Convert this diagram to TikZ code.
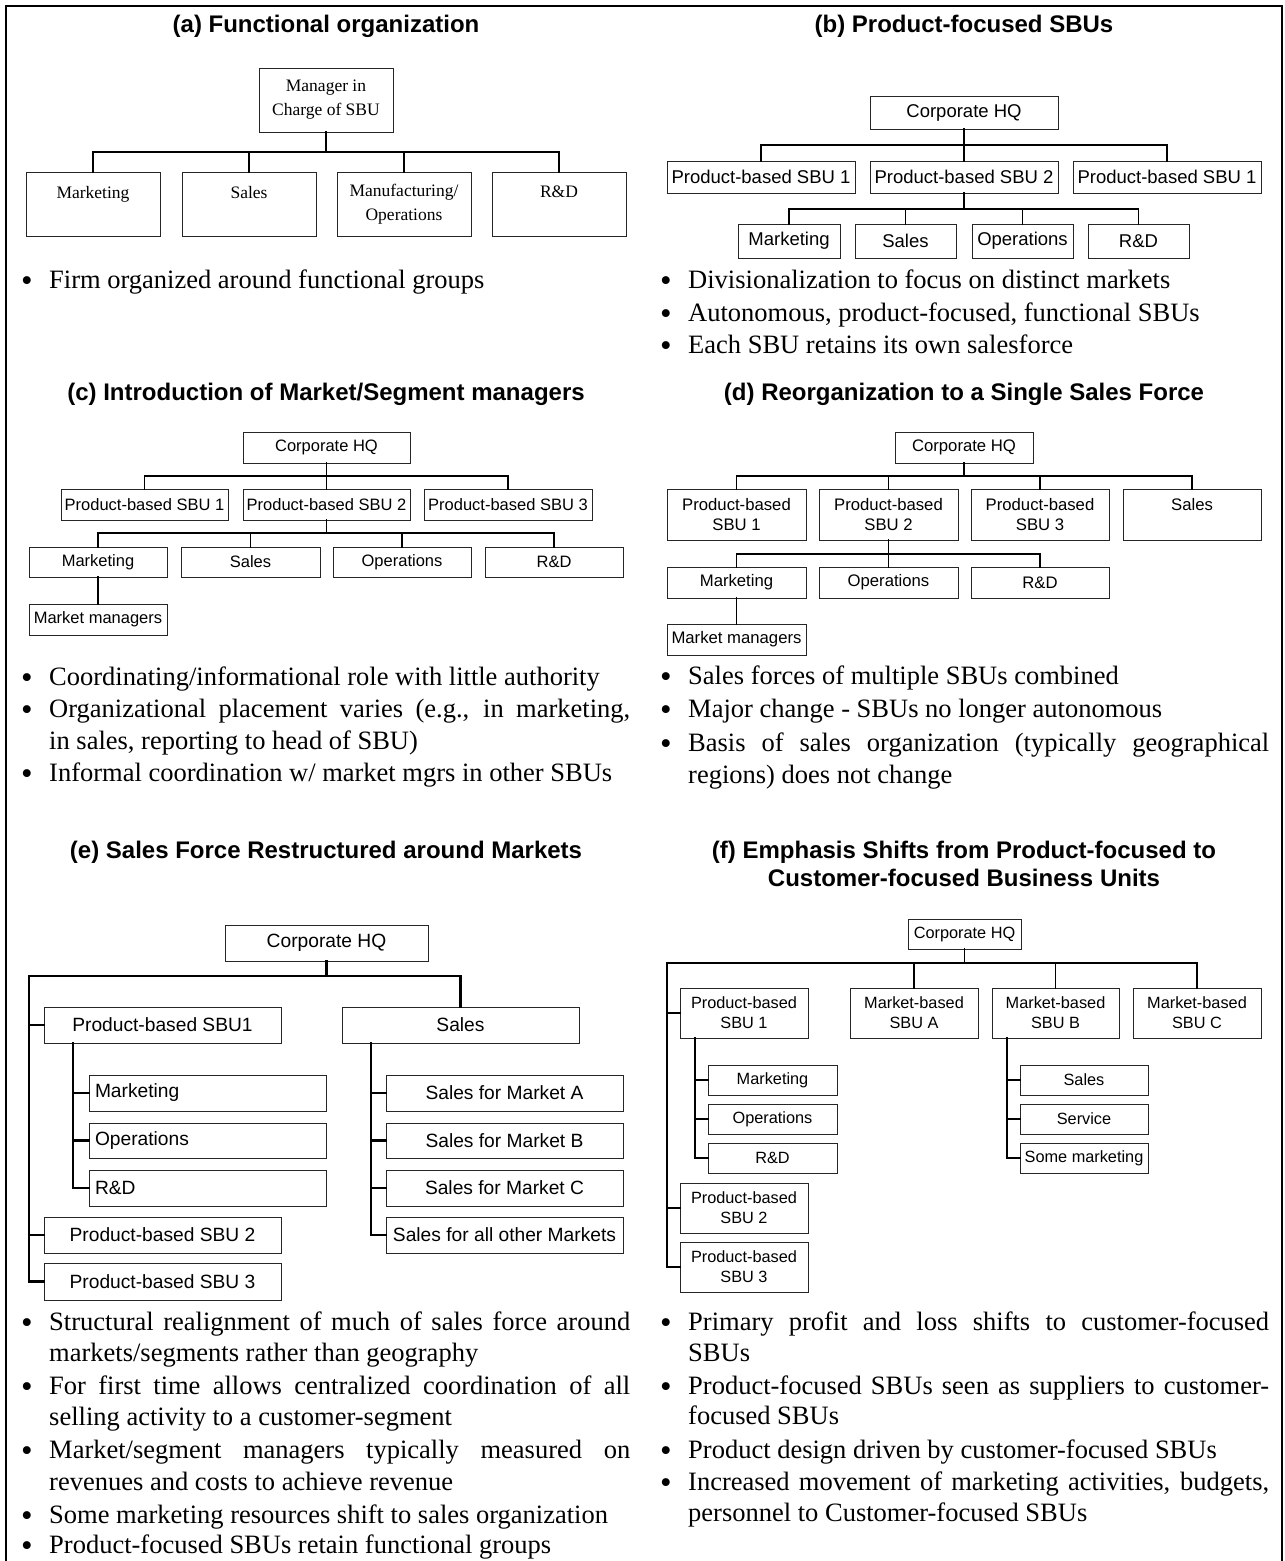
\documentclass[tikz,border=0pt]{standalone}
\usepackage{fontspec}
\setmainfont{Liberation Serif}
\newfontfamily\arialf{Liberation Sans}
\newcommand\bodyf{\fontsize{26.5}{32}\selectfont}
\newcommand\dotf{\fontsize{33}{33}\selectfont}
\newcommand\ttlf{\arialf\bfseries\fontsize{24}{28}\selectfont}
\newcommand\fontA{\fontsize{17.5}{24}\selectfont}
\newcommand\fontB{\arialf\fontsize{18.5}{22}\selectfont}
\newcommand\fontC{\arialf\fontsize{16.5}{20}\selectfont}
\newcommand\fontD{\arialf\fontsize{16.7}{20}\selectfont}
\newcommand\fontE{\arialf\fontsize{19.2}{22}\selectfont}
\newcommand\fontF{\arialf\fontsize{16.3}{20}\selectfont}
\tikzset{
  obox/.style={draw=black!85, line width=0.9pt, outer sep=0pt, inner sep=1pt, align=center},
  ttl/.style={anchor=base, inner sep=0pt, font=\ttlf},
  btxt/.style={anchor=base west, inner sep=0pt, font=\bodyf},
  bdotst/.style={anchor=base, inner sep=0pt, font=\dotf, yshift=-3.5pt},
  lnA/.style={line width=1.1pt, line cap=rect},
  lnB/.style={line width=1.8pt, line cap=rect},
  lnC/.style={line width=2.6pt, line cap=rect},
  lnE/.style={line width=2.3pt, line cap=rect},
  lnF/.style={line width=1.9pt, line cap=rect},
  lft/.style={align=left, inner xsep=6pt, text width={#1}}
}
% #1 opts, #2 name, #3 x1, #4 y1, #5 x2, #6 y2, #7 text
\newcommand{\orgbox}[7][]{%
  \node[obox, minimum width={#5-#3}, minimum height={#6-#4}, #1] (#2) at ({(#3+#5)/2},{(#4+#6)/2}) {#7};}
\newcommand{\bline}[4]{\node[btxt] (#1) at (#2,#3) {#4};}
\newcommand{\jline}[4]{\node[btxt] (#1) at (#2,#3) {\makebox[581pt][s]{#4}};}
\newcommand{\mydot}[3]{\node[bdotst] (#1) at (#2,#3) {\textbullet};}
\begin{document}
\begin{tikzpicture}[x=1pt,y=-1pt]
\useasboundingbox (0,0) rectangle (1285,1561);
% frame
\draw[line width=2pt] (6,1565) -- (6,6) -- (1282,6) -- (1282,1565);

% ---------------- (a)
\node[ttl] (ta) at (326,32) {(a) Functional organization};
\orgbox[font=\fontA]{amgr}{259}{68}{393}{132}{Manager in\\Charge of SBU}
\orgbox[font=\fontA]{a1}{26}{172}{160}{236}{Marketing\\\mbox{}}
\orgbox[font=\fontA]{a2}{182}{172}{316}{236}{Sales\\\mbox{}}
\orgbox[font=\fontA]{a3}{337}{172}{471}{236}{Manufacturing/\\Operations}
\orgbox[font=\fontA]{a4}{492}{172}{626}{236}{R\&D\\\mbox{}}
\coordinate (aBus) at (0,152);
\draw[lnA] (amgr.south) -- (amgr.south |- aBus);
\draw[lnA] (a1.north) -- (a1.north |- aBus) -- (a4.north |- aBus) -- (a4.north);
\draw[lnA] (a2.north) -- (a2.north |- aBus);
\draw[lnA] (a3.north) -- (a3.north |- aBus);
\mydot{ad1}{27}{288}
\bline{ab1}{49}{288}{Firm organized around functional groups}

% ---------------- (b)
\node[ttl] (tb) at (964,32) {(b) Product-focused SBUs};
\orgbox[font=\fontB]{bhq}{870}{96}{1058}{129}{Corporate HQ}
\orgbox[font=\fontB]{b1}{667}{161}{855}{193}{Product-based SBU 1}
\orgbox[font=\fontB]{b2}{870}{161}{1058}{193}{Product-based SBU 2}
\orgbox[font=\fontB]{b3}{1073}{161}{1261}{193}{Product-based SBU 1}
\orgbox[font=\fontB]{bf1}{738}{224}{840}{258}{Marketing}
\orgbox[font=\fontB]{bf2}{855}{224}{956}{258}{Sales}
\orgbox[font=\fontB]{bf3}{972}{224}{1073}{258}{Operations}
\orgbox[font=\fontB]{bf4}{1088}{224}{1189}{258}{R\&D}
\coordinate (bBus1) at (0,145);
\coordinate (bBus2) at (0,209);
\draw[lnB] (bhq.south) -- (bhq.south |- bBus1);
\draw[lnB] (b1.north) -- (b1.north |- bBus1) -- (b3.north |- bBus1) -- (b3.north);
\draw[lnB] (b2.north) -- (b2.north |- bBus1);
\draw[lnB] (b2.south) -- (b2.south |- bBus2);
\draw[lnB] (bf1.north) -- (bf1.north |- bBus2) -- (bf4.north |- bBus2) -- (bf4.north);
\draw[lnB] (bf2.north) -- (bf2.north |- bBus2);
\draw[lnB] (bf3.north) -- (bf3.north |- bBus2);
\mydot{bd1}{666}{288}
\bline{bb1}{688}{288}{Divisionalization to focus on distinct markets}
\mydot{bd2}{666}{321}
\bline{bb2}{688}{321}{Autonomous, product-focused, functional SBUs}
\mydot{bd3}{666}{353}
\bline{bb3}{688}{353}{Each SBU retains its own salesforce}

% ---------------- (c)
\node[ttl] (tc) at (326,400) {(c) Introduction of Market/Segment managers};
\orgbox[font=\fontC]{chq}{243}{432}{410}{463}{Corporate HQ}
\orgbox[font=\fontC]{c1}{61}{489}{228}{520}{Product-based SBU 1}
\orgbox[font=\fontC]{c2}{243}{489}{410}{520}{Product-based SBU 2}
\orgbox[font=\fontC]{c3}{424}{489}{592}{520}{Product-based SBU 3}
\orgbox[font=\fontC]{cf1}{29}{547}{167}{577}{Marketing}
\orgbox[font=\fontC]{cf2}{181}{547}{320}{577}{Sales}
\orgbox[font=\fontC]{cf3}{333}{547}{471}{577}{Operations}
\orgbox[font=\fontC]{cf4}{485}{547}{623}{577}{R\&D}
\orgbox[font=\fontC]{cmm}{29}{604}{167}{635}{Market managers}
\coordinate (cBus1) at (0,476);
\coordinate (cBus2) at (0,533);
\draw[lnB] (chq.south) -- (chq.south |- cBus1);
\draw[lnB] (c1.north) -- (c1.north |- cBus1) -- (c3.north |- cBus1) -- (c3.north);
\draw[lnB] (c2.north) -- (c2.north |- cBus1);
\draw[lnB] (c2.south) -- (c2.south |- cBus2);
\draw[lnC] (cf1.north |- cBus2) -- (cf4.north |- cBus2);
\draw[lnB] (cf1.north) -- (cf1.north |- cBus2);
\draw[lnB] (cf2.north) -- (cf2.north |- cBus2);
\draw[lnB] (cf3.north) -- (cf3.north |- cBus2);
\draw[lnB] (cf4.north) -- (cf4.north |- cBus2);
\draw[lnB] (cf1.south) -- (cmm.north);
\mydot{cd1}{27}{685}
\bline{cb1}{49}{685}{Coordinating/informational role with little authority}
\mydot{cd2}{27}{717}
\jline{cb2}{49}{717}{Organizational placement varies (e.g., in marketing,}
\bline{cb3}{49}{749}{in sales, reporting to head of SBU)}
\mydot{cd4}{27}{781}
\bline{cb4}{49}{781}{Informal coordination w/ market mgrs in other SBUs}

% ---------------- (d)
\node[ttl] (td) at (964,400) {(d) Reorganization to a Single Sales Force};
\orgbox[font=\fontD]{dhq}{895}{432}{1033}{463}{Corporate HQ}
\orgbox[font=\fontD]{d1}{667}{489}{806}{540}{Product-based\\SBU 1}
\orgbox[font=\fontD]{d2}{819}{489}{958}{540}{Product-based\\SBU 2}
\orgbox[font=\fontD]{d3}{971}{489}{1109}{540}{Product-based\\SBU 3}
\orgbox[font=\fontD]{d4}{1123}{489}{1261}{540}{Sales\\\mbox{}}
\orgbox[font=\fontD]{df1}{667}{567}{806}{598}{Marketing}
\orgbox[font=\fontD]{df2}{819}{567}{958}{598}{Operations}
\orgbox[font=\fontD]{df3}{971}{567}{1109}{598}{R\&D}
\orgbox[font=\fontD]{dmm}{667}{624}{806}{655}{Market managers}
\coordinate (dBus1) at (0,476);
\coordinate (dBus2) at (0,554);
\draw[lnB] (dhq.south) -- (dhq.south |- dBus1);
\draw[lnB] (d1.north) -- (d1.north |- dBus1) -- (d4.north |- dBus1) -- (d4.north);
\draw[lnB] (d2.north) -- (d2.north |- dBus1);
\draw[lnB] (d3.north) -- (d3.north |- dBus1);
\draw[lnB] (d2.south) -- (df2.north);
\draw[lnB] (df1.north) -- (df1.north |- dBus2) -- (df3.north |- dBus2) -- (df3.north);
\draw[lnB] (df1.south) -- (dmm.north);
\mydot{dd1}{666}{684}
\bline{db1}{688}{684}{Sales forces of multiple SBUs combined}
\mydot{dd2}{666}{717}
\bline{db2}{688}{717}{Major change - SBUs no longer autonomous}
\mydot{dd3}{666}{751}
\jline{db3}{688}{751}{Basis of sales organization (typically geographical}
\bline{db4}{688}{783}{regions) does not change}

% ---------------- (e)
\node[ttl] (te) at (326,858) {(e) Sales Force Restructured around Markets};
\orgbox[font=\fontE]{ehq}{225}{925}{428}{961}{Corporate HQ}
\orgbox[font=\fontE]{ep1}{44}{1007}{281}{1043}{Product-based SBU1}
\orgbox[font=\fontE]{es}{342}{1007}{579}{1043}{Sales}
\orgbox[font=\fontE,lft=225pt]{em1}{89}{1075}{326}{1111}{Marketing}
\orgbox[font=\fontE,lft=225pt]{em2}{89}{1123}{326}{1158}{Operations}
\orgbox[font=\fontE,lft=225pt]{em3}{89}{1170}{326}{1206}{R\&D}
\orgbox[font=\fontE]{esa}{386}{1075}{623}{1111}{Sales for Market A}
\orgbox[font=\fontE]{esb}{386}{1123}{623}{1158}{Sales for Market B}
\orgbox[font=\fontE]{esc}{386}{1170}{623}{1206}{Sales for Market C}
\orgbox[font=\fontE]{esd}{386}{1217}{623}{1253}{Sales for all other Markets}
\orgbox[font=\fontE]{ep2}{44}{1217}{281}{1253}{Product-based SBU 2}
\orgbox[font=\fontE]{ep3}{44}{1263}{281}{1300}{Product-based SBU 3}
\coordinate (eBus) at (0,976);
\coordinate (eTrunk) at (29,976);
\coordinate (eSub1) at (73,0);
\coordinate (eSub2) at (371,0);
\draw[lnE] (ehq.south) -- (ehq.south |- eBus);
\draw[lnE] (es.north) -- (es.north |- eBus) -- (eTrunk) -- (eTrunk |- ep3.west) -- (ep3.west);
\draw[lnE] (eTrunk |- ep1.west) -- (ep1.west);
\draw[lnE] (eTrunk |- ep2.west) -- (ep2.west);
\draw[lnE] (eSub1 |- ep1.south) -- (eSub1 |- em3.west) -- (em3.west);
\draw[lnE] (eSub1 |- em1.west) -- (em1.west);
\draw[lnE] (eSub1 |- em2.west) -- (em2.west);
\draw[lnE] (eSub2 |- es.south) -- (eSub2 |- esd.west) -- (esd.west);
\draw[lnE] (eSub2 |- esa.west) -- (esa.west);
\draw[lnE] (eSub2 |- esb.west) -- (esb.west);
\draw[lnE] (eSub2 |- esc.west) -- (esc.west);
\mydot{ed1}{27}{1330}
\jline{eb1}{49}{1330}{Structural realignment of much of sales force around}
\bline{eb2}{49}{1361}{markets/segments rather than geography}
\mydot{ed3}{27}{1394}
\jline{eb3}{49}{1394}{For first time allows centralized coordination of all}
\bline{eb4}{49}{1425}{selling activity to a customer-segment}
\mydot{ed5}{27}{1458}
\jline{eb5}{49}{1458}{Market/segment managers typically measured on}
\bline{eb6}{49}{1490}{revenues and costs to achieve revenue}
\mydot{ed7}{27}{1523}
\bline{eb7}{49}{1523}{Some marketing resources shift to sales organization}
\mydot{ed8}{27}{1553}
\bline{eb8}{49}{1553}{Product-focused SBUs retain functional groups}

% ---------------- (f)
\node[ttl] (tf1) at (964,858) {(f) Emphasis Shifts from Product-focused to};
\node[ttl] (tf2) at (964,886) {Customer-focused Business Units};
\orgbox[font=\fontF]{fhq}{908}{919}{1021}{949}{Corporate HQ}
\orgbox[font=\fontF]{fp1}{680}{988}{808}{1038}{Product-based\\SBU 1}
\orgbox[font=\fontF]{fa}{850}{988}{978}{1038}{Market-based\\SBU A}
\orgbox[font=\fontF]{fb}{992}{988}{1119}{1038}{Market-based\\SBU B}
\orgbox[font=\fontF]{fc}{1133}{988}{1261}{1038}{Market-based\\SBU C}
\orgbox[font=\fontF]{fm}{708}{1065}{837}{1095}{Marketing}
\orgbox[font=\fontF]{fo}{708}{1104}{837}{1134}{Operations}
\orgbox[font=\fontF]{fr}{708}{1143}{837}{1173}{R\&D}
\orgbox[font=\fontF]{fsa}{1020}{1065}{1148}{1095}{Sales}
\orgbox[font=\fontF]{fsv}{1020}{1104}{1148}{1134}{Service}
\orgbox[font=\fontF]{fsm}{1020}{1143}{1148}{1173}{Some marketing}
\orgbox[font=\fontF]{fp2}{680}{1183}{808}{1233}{Product-based\\SBU 2}
\orgbox[font=\fontF]{fp3}{680}{1242}{808}{1292}{Product-based\\SBU 3}
\coordinate (fBus) at (0,963);
\coordinate (fTrunk) at (667,963);
\coordinate (fSub1) at (695,0);
\coordinate (fSub2) at (1007,0);
\draw[lnF] (fhq.south) -- (fhq.south |- fBus);
\draw[lnF] (fc.north) -- (fc.north |- fBus) -- (fTrunk) -- (fTrunk |- fp3.west) -- (fp3.west);
\draw[lnF] (fa.north) -- (fa.north |- fBus);
\draw[lnF] (fb.north) -- (fb.north |- fBus);
\draw[lnF] (fTrunk |- fp1.west) -- (fp1.west);
\draw[lnF] (fTrunk |- fp2.west) -- (fp2.west);
\draw[lnF] (fSub1 |- fp1.south) -- (fSub1 |- fr.west) -- (fr.west);
\draw[lnF] (fSub1 |- fm.west) -- (fm.west);
\draw[lnF] (fSub1 |- fo.west) -- (fo.west);
\draw[lnF] (fSub2 |- fb.south) -- (fSub2 |- fsm.west) -- (fsm.west);
\draw[lnF] (fSub2 |- fsa.west) -- (fsa.west);
\draw[lnF] (fSub2 |- fsv.west) -- (fsv.west);
\mydot{fd1}{666}{1330}
\jline{fb1}{688}{1330}{Primary profit and loss shifts to customer-focused}
\bline{fb2}{688}{1361}{SBUs}
\mydot{fd3}{666}{1394}
\jline{fb3}{688}{1394}{Product-focused SBUs seen as suppliers to customer-}
\bline{fb4}{688}{1424}{focused SBUs}
\mydot{fd5}{666}{1458}
\bline{fb5}{688}{1458}{Product design driven by customer-focused SBUs}
\mydot{fd6}{666}{1490}
\jline{fb6}{688}{1490}{Increased movement of marketing activities, budgets,}
\bline{fb7}{688}{1521}{personnel to Customer-focused SBUs}
\end{tikzpicture}
\end{document}
